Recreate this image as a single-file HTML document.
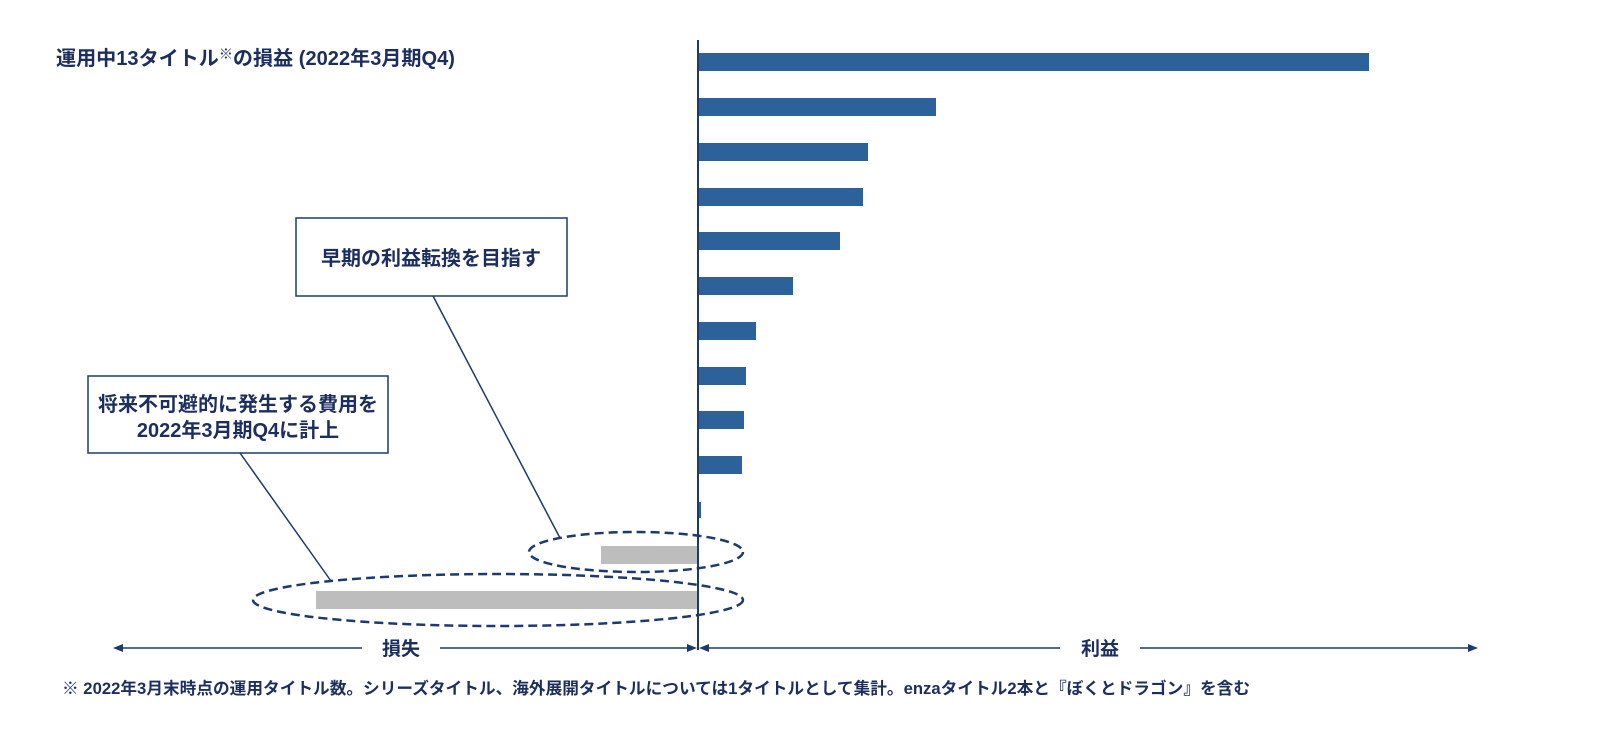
<!DOCTYPE html>
<html><head><meta charset="utf-8"><style>
body{margin:0;background:#fff;width:1600px;height:729px;overflow:hidden;font-family:"Liberation Sans","Noto Sans CJK JP",sans-serif}
</style></head><body>
<svg width="1600" height="729" xmlns="http://www.w3.org/2000/svg" font-family="Liberation Sans, Noto Sans CJK JP, sans-serif">
<text x="56" y="65" font-size="20" font-weight="bold" fill="#1c2e5e" textLength="399" lengthAdjust="spacingAndGlyphs">運用中13タイトル<tspan font-size="14" dy="-6">※</tspan><tspan dy="6">の損益 (2022年3月期Q4)</tspan></text>
<g fill="#2c6199">
<rect x="698" y="53" width="671" height="18"/>
<rect x="698" y="98" width="238" height="18"/>
<rect x="698" y="143" width="170" height="18"/>
<rect x="698" y="188" width="165" height="18"/>
<rect x="698" y="232" width="142" height="18"/>
<rect x="698" y="277" width="95" height="18"/>
<rect x="698" y="322" width="58" height="18"/>
<rect x="698" y="367" width="48" height="18"/>
<rect x="698" y="411" width="46" height="18"/>
<rect x="698" y="456" width="44" height="18"/>
<rect x="698" y="502" width="3" height="16"/>
</g>
<rect x="601" y="546" width="97" height="18" fill="#bdbdbd"/>
<rect x="316" y="591" width="382" height="18" fill="#bdbdbd"/>
<line x1="698" y1="40" x2="698" y2="650" stroke="#1c3a6e" stroke-width="2"/>
<g fill="none" stroke="#1c3a6e" stroke-width="2.5" stroke-dasharray="9,5">
<ellipse cx="636" cy="552" rx="107" ry="20"/>
<ellipse cx="498" cy="600" rx="245" ry="26"/>
</g>
<g stroke="#1c3a6e" stroke-width="1.5" fill="#fff">
<line x1="433" y1="296" x2="560" y2="538"/>
<line x1="240" y1="453" x2="331" y2="581"/>
<rect x="296" y="218" width="271" height="78"/>
<rect x="88" y="376" width="300" height="77"/>
</g>
<text x="431" y="265" font-size="20" font-weight="bold" fill="#1c2e5e" text-anchor="middle">早期の利益転換を目指す</text>
<text x="238" y="411" font-size="20" font-weight="bold" fill="#1c2e5e" text-anchor="middle">将来不可避的に発生する費用を</text>
<text x="238" y="437" font-size="20" font-weight="bold" fill="#1c2e5e" text-anchor="middle">2022年3月期Q4に計上</text>
<g stroke="#1c3a6e" stroke-width="1.5">
<line x1="120" y1="648" x2="362" y2="648"/>
<line x1="440" y1="648" x2="690" y2="648"/>
<line x1="706" y1="648" x2="1060" y2="648"/>
<line x1="1140" y1="648" x2="1470" y2="648"/>
</g>
<g fill="#1c3a6e">
<polygon points="113,648 123,644 123,652"/>
<polygon points="697,648 687,644 687,652"/>
<polygon points="699,648 709,644 709,652"/>
<polygon points="1478,648 1468,644 1468,652"/>
</g>
<text x="401" y="655" font-size="19" font-weight="bold" fill="#1c2e5e" text-anchor="middle">損失</text>
<text x="1100" y="655" font-size="19" font-weight="bold" fill="#1c2e5e" text-anchor="middle">利益</text>
<text x="62" y="694" font-size="16.5" font-weight="bold" fill="#1c2e5e" textLength="1188" lengthAdjust="spacingAndGlyphs">※ 2022年3月末時点の運用タイトル数。シリーズタイトル、海外展開タイトルについては1タイトルとして集計。enzaタイトル2本と『ぼくとドラゴン』を含む</text>
</svg>
</body></html>
